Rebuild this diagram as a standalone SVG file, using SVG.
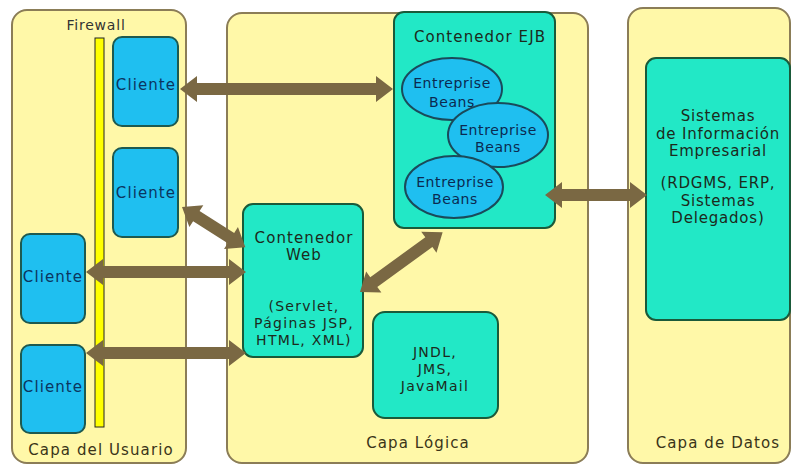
<svg xmlns="http://www.w3.org/2000/svg" width="793" height="466" viewBox="0 0 793 466">
<style>
text{font-family:"DejaVu Sans","Liberation Sans",sans-serif;font-size:15px;letter-spacing:1.1px;text-anchor:middle;fill:#1c2a1c}
.layer{fill:#fff8a8;stroke:#8b7d57;stroke-width:2}
.lbl{fill:#3a3418}
.cli{fill:#1fbff0;stroke:#1e5a50;stroke-width:2}
.clt{fill:#0b3560}
.cont{fill:#22e8c6;stroke:#1a5a3a;stroke-width:2}
.bean{fill:#1fbff0;stroke:#1a4a5a;stroke-width:2}
.bt{font-size:14px;letter-spacing:0.6px;fill:#0b2a50}
.sis{font-size:15px;letter-spacing:0.8px}
.sm{font-size:14px;letter-spacing:1.3px}
.fw{fill:#ffff00;stroke:#222;stroke-width:1}
.arr{fill:#7a6843}
</style>
<g id="capa-usuario">
<rect class="layer" x="12" y="10" width="174" height="453" rx="15"/>
<text class="lbl" x="101" y="455">Capa del Usuario</text>
</g>
<g id="capa-logica">
<rect class="layer" x="227" y="13" width="361" height="450" rx="15"/>
<text class="lbl" x="418" y="448">Capa Lógica</text>
</g>
<g id="capa-datos">
<rect class="layer" x="628" y="8" width="162" height="455" rx="15"/>
<text class="lbl" x="718" y="448">Capa de Datos</text>
</g>
<g id="firewall">
<text x="96" y="30" style="font-size:14px;letter-spacing:0.8px;fill:#333">Firewall</text>
<rect class="fw" x="95" y="38" width="9" height="389"/>
</g>
<g id="cliente1"><rect class="cli" x="113" y="37" width="65" height="89" rx="9"/><text class="clt" x="146" y="90">Cliente</text></g>
<g id="cliente2"><rect class="cli" x="113" y="148" width="65" height="89" rx="9"/><text class="clt" x="146" y="198">Cliente</text></g>
<g id="cliente3"><rect class="cli" x="21" y="234" width="64" height="89" rx="9"/><text class="clt" x="53" y="282">Cliente</text></g>
<g id="cliente4"><rect class="cli" x="21" y="345" width="64" height="88" rx="9"/><text class="clt" x="53" y="392">Cliente</text></g>
<g id="contenedor-ejb">
<rect class="cont" x="394" y="12" width="161" height="216" rx="10"/>
<text x="480" y="42">Contenedor EJB</text>
</g>
<g id="bean1"><ellipse class="bean" cx="452" cy="89" rx="50" ry="31"/><text class="bt" x="452" y="88">Entreprise</text><text class="bt" x="452" y="107">Beans</text></g>
<g id="bean2"><ellipse class="bean" cx="498" cy="135" rx="50" ry="32"/><text class="bt" x="498" y="135">Entreprise</text><text class="bt" x="498" y="152">Beans</text></g>
<g id="bean3"><ellipse class="bean" cx="454" cy="187" rx="49" ry="31"/><text class="bt" x="455" y="187">Entreprise</text><text class="bt" x="455" y="204">Beans</text></g>
<g id="contenedor-web">
<rect class="cont" x="243" y="204" width="120" height="153" rx="10"/>
<text x="304" y="243">Contenedor</text>
<text x="304" y="260">Web</text>
<text class="sm" x="304" y="311">(Servlet,</text>
<text class="sm" x="304" y="328">Páginas JSP,</text>
<text class="sm" x="304" y="345">HTML, XML)</text>
</g>
<g id="jndl">
<rect class="cont" x="373" y="312" width="125" height="106" rx="12"/>
<text class="sm" x="435" y="357">JNDL,</text>
<text class="sm" x="435" y="374">JMS,</text>
<text class="sm" x="435" y="391">JavaMail</text>
</g>
<g id="sistemas">
<rect class="cont" x="646" y="58" width="144" height="262" rx="10"/>
<text class="sis" x="718" y="121">Sistemas</text>
<text class="sis" x="718" y="138.5">de Información</text>
<text class="sis" x="718" y="156">Empresarial</text>
<text class="sis" x="718" y="188">(RDGMS, ERP,</text>
<text class="sis" x="718" y="205.5">Sistemas</text>
<text class="sis" x="718" y="223">Delegados)</text>
</g>
<g id="connectors">
<path class="arr" d="M180,89 L197,76 L197,83 L376,83 L376,76 L393,89 L376,102 L376,95 L197,95 L197,102 Z"/>
<path class="arr" transform="translate(182,207) rotate(32.4)" d="M0,0 L17,-13 L17,-6 L58,-6 L58,-13 L75,0 L58,13 L58,6 L17,6 L17,13 Z"/>
<path class="arr" d="M86,272 L103,259 L103,266 L229,266 L229,259 L246,272 L229,285 L229,278 L103,278 L103,285 Z"/>
<path class="arr" d="M86,353 L103,340 L103,347 L229,347 L229,340 L246,353 L229,366 L229,359 L103,359 L103,366 Z"/>
<path class="arr" transform="translate(360,292) rotate(-35.9)" d="M0,0 L17,-13 L17,-6 L85,-6 L85,-13 L102,0 L85,13 L85,6 L17,6 L17,13 Z"/>
<path class="arr" d="M545,195 L562,182 L562,189 L630,189 L630,182 L647,195 L630,208 L630,201 L562,201 L562,208 Z"/>
</g>
</svg>
